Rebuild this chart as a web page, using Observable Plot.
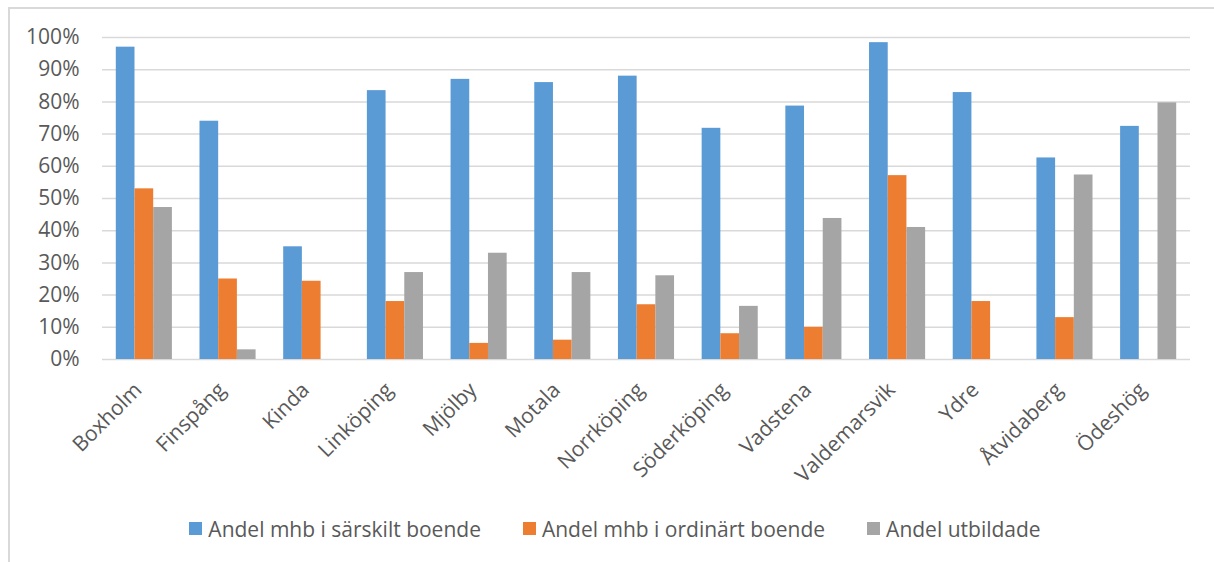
<!DOCTYPE html>
<html><head><meta charset="utf-8">
<script src="https://cdn.jsdelivr.net/npm/d3@7"></script>
<script src="https://cdn.jsdelivr.net/npm/@observablehq/plot@0.6"></script>
<style>
html,body{margin:0;padding:0;background:#fff;}
body{width:1214px;height:562px;position:relative;overflow:hidden;font-family:"Open Sans",sans-serif;}
#frame{position:absolute;left:8px;top:7px;width:1230px;height:620px;border:2px solid #d9d9d9;box-sizing:border-box;}
#chart{position:absolute;left:0;top:0;}
#legend{position:absolute;left:4px;width:1222px;top:512px;display:flex;justify-content:center;}
#legend .leg-swatch{margin-right:42px !important;}
#legend .leg-swatch:last-child{margin-right:0 !important;}
#legend .leg-swatch svg{margin-right:6px !important;}
</style></head><body>
<div id="frame"></div><div id="chart"></div><div id="legend"></div>
<script>
const kommuner = ["Boxholm","Finspång","Kinda","Linköping","Mjölby","Motala","Norrköping","Söderköping","Vadstena","Valdemarsvik","Ydre","Åtvidaberg","Ödeshög"];
const serier = ["Andel mhb i särskilt boende","Andel mhb i ordinärt boende","Andel utbildade"];
const sarskilt  = [0.97, 0.74, 0.35, 0.835, 0.87, 0.86, 0.88, 0.718, 0.787, 0.984, 0.829, 0.626, 0.724];
const ordinart  = [0.53, 0.25, 0.243, 0.18, 0.05, 0.06, 0.17, 0.08, 0.10, 0.571, 0.18, 0.13, null];
const utbildade = [0.472, 0.03, null, 0.27, 0.33, 0.27, 0.26, 0.165, 0.438, 0.41, null, 0.573, 0.797];
const yTicks = [0, 0.1, 0.2, 0.3, 0.4, 0.5, 0.6, 0.7, 0.8, 0.9, 1];
const colors = ["#5B9BD5", "#ED7D31", "#A5A5A5"];

const seriesValues = [sarskilt, ordinart, utbildade];
const rows = seriesValues.map((arr, s) =>
  kommuner.map((k, i) => ({kommun: k, serie: serier[s], value: arr[i]})).filter(d => d.value != null)
);

const barW = 18.7;
const plot = Plot.plot({
  width: 1214, height: 480,
  marginTop: 37, marginBottom: 121, marginLeft: 102, marginRight: 24,
  style: {fontFamily: "Open Sans", fontSize: "21px", color: "#595959", background: "transparent", overflow: "visible"},
  x: {domain: kommuner, padding: 0, round: false, label: null},
  y: {domain: [0, 1], label: null},
  marks: [
    Plot.ruleY(yTicks, {stroke: "#d9d9d9", strokeWidth: 1.5}),
    ...rows.map((r, s) => Plot.barY(r, {
      x: "kommun", y: "value", fill: colors[s],
      insetLeft: 32.5, insetRight: 32.5, dx: (s - 1) * barW
    })),
    Plot.axisY({ticks: yTicks, tickFormat: d3.format(".0%"), tickSize: 0, tickPadding: 23, label: null}),
    Plot.axisX({tickRotate: -45, tickSize: 0, tickPadding: 27, dx: -6, label: null})
  ]
});
document.getElementById("chart").append(plot);

const legend = Plot.legend({
  color: {type: "ordinal", domain: serier, range: colors},
  swatchSize: 13, className: "leg",
  style: {fontSize: "21px", fontFamily: "Open Sans", color: "#595959"}
});
document.getElementById("legend").append(legend);
</script>
</body></html>
